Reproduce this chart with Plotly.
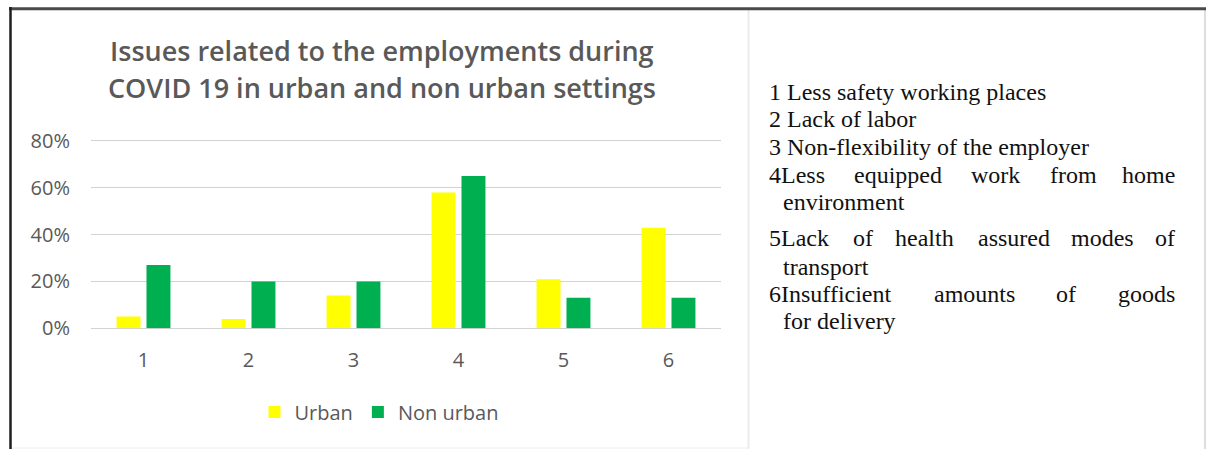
import plotly.graph_objects as go

W, H = 1206, 449

categories = ["1", "2", "3", "4", "5", "6"]
urban = [0.05, 0.04, 0.14, 0.58, 0.21, 0.43]
non_urban = [0.27, 0.20, 0.20, 0.65, 0.13, 0.13]
series_names = ["Urban", "Non urban"]
y_ticks = [0, 0.2, 0.4, 0.6, 0.8]
title_lines = ["Issues related to the employments during",
               "COVID 19 in urban and non urban settings"]

# Key text: each line is a list of words (justified lines have several words)
key_lines = [
    ["1 Less safety working places"],
    ["2 Lack of labor"],
    ["3 Non-flexibility of the employer"],
    ["4Less", "equipped", "work", "from", "home"],
    ["environment"],
    ["5Lack", "of", "health", "assured", "modes", "of"],
    ["transport"],
    ["6Insufficient", "amounts", "of", "goods"],
    ["for delivery"],
]


def px(x):
    return x / W


def py(y):
    return 1 - y / H


Y_MAX = 0.81
Y0_PX, Y80_PX = 328.3, 141.0
top_px = Y0_PX - (Y0_PX - Y80_PX) / 0.8 * Y_MAX

fig = go.Figure()
fig.add_trace(go.Bar(x=categories, y=urban, name=series_names[0],
                     marker=dict(color="#FFFF00", line=dict(width=0))))
fig.add_trace(go.Bar(x=categories, y=non_urban, name=series_names[1],
                     marker=dict(color="#00B050", line=dict(width=0))))

tick_font = dict(family="Open Sans, Carlito, Calibri, sans-serif", size=20, color="#595959")
legend_font = dict(family="Open Sans, Carlito, Calibri, sans-serif", size=20, color="#595959")

fig.update_layout(
    width=W, height=H, autosize=False,
    margin=dict(l=0, r=0, t=0, b=0, autoexpand=False),
    paper_bgcolor="white", plot_bgcolor="white",
    barmode="group", bargap=0.43, bargroupgap=0.2,
    showlegend=True,
    legend=dict(orientation="h", x=px(379), xanchor="center", y=py(412), yanchor="middle",
                font=legend_font, bgcolor="rgba(0,0,0,0)", itemwidth=30,
                traceorder="normal"),
    xaxis=dict(domain=[px(91), px(721)], type="category", categoryorder="array",
               categoryarray=categories, showgrid=False, showline=False, ticks="",
               tickfont=tick_font, ticklabelstandoff=18, fixedrange=True,
               automargin=False),
    yaxis=dict(domain=[py(Y0_PX), py(top_px)], range=[0, Y_MAX], tickvals=y_ticks,
               tickformat=".0%", showgrid=True, gridcolor="#d3d3d3", gridwidth=1.4,
               zeroline=True, zerolinecolor="#d3d3d3", zerolinewidth=1.4,
               showline=False, ticks="", tickfont=tick_font, ticklabelstandoff=20,
               fixedrange=True, automargin=False),
)

annotations = []
title_font = dict(family="Open Sans, Carlito, Calibri, sans-serif", size=27,
                  color="#595959", weight=600)
for line, yc in zip(title_lines, [50, 88]):
    annotations.append(dict(text=line, x=px(382), y=py(yc), xref="paper",
                            yref="paper", xanchor="center", yanchor="middle",
                            showarrow=False, font=title_font))

key_font = dict(family="Liberation Serif, Times New Roman, serif", size=24, color="#111111")
baselines = [100, 127, 155, 183, 210, 246, 275, 302, 329]
word_centers = {
    3: [None, 898, 995, 1073, None],
    5: [None, 863, 924.5, 1013.5, 1102.5, None],
    7: [None, 974, 1066, None],
}
LEFT, RIGHT, INDENT = 767, 1177, 781
for i, words in enumerate(key_lines):
    yc = py(baselines[i] - 8)
    if len(words) == 1:
        xl = INDENT if i in (4, 6, 8) else LEFT
        annotations.append(dict(text=words[0], x=px(xl), y=yc, xref="paper", yref="paper",
                                xanchor="left", yanchor="middle", showarrow=False,
                                font=key_font))
    else:
        centers = word_centers[i]
        for j, w in enumerate(words):
            if j == 0:
                xa, xv = "left", LEFT
            elif j == len(words) - 1:
                xa, xv = "right", RIGHT
            else:
                xa, xv = "center", centers[j]
            annotations.append(dict(text=w, x=px(xv), y=yc, xref="paper", yref="paper",
                                    xanchor=xa, yanchor="middle", showarrow=False,
                                    font=key_font))
fig.update_layout(annotations=annotations)

shapes = [
    dict(type="line", xref="paper", yref="paper", x0=px(748.5), x1=px(748.5), y0=py(10), y1=py(449),
         line=dict(color="#ececec", width=2)),
    dict(type="line", xref="paper", yref="paper", x0=px(10), x1=px(748), y0=py(448), y1=py(448),
         line=dict(color="#eeeeee", width=1)),
    dict(type="line", xref="paper", yref="paper", x0=px(1205), x1=px(1205), y0=py(9), y1=py(449),
         line=dict(color="#bdbdbd", width=1)),
    dict(type="line", xref="paper", yref="paper", x0=px(9), x1=px(1206), y0=py(8.7), y1=py(8.7),
         line=dict(color="#4a4a4a", width=3)),
    dict(type="line", xref="paper", yref="paper", x0=px(10.5), x1=px(10.5), y0=py(7), y1=py(449),
         line=dict(color="#1e1e1e", width=2.5)),
]
fig.update_layout(shapes=shapes)

fig.write_html("out.html")
